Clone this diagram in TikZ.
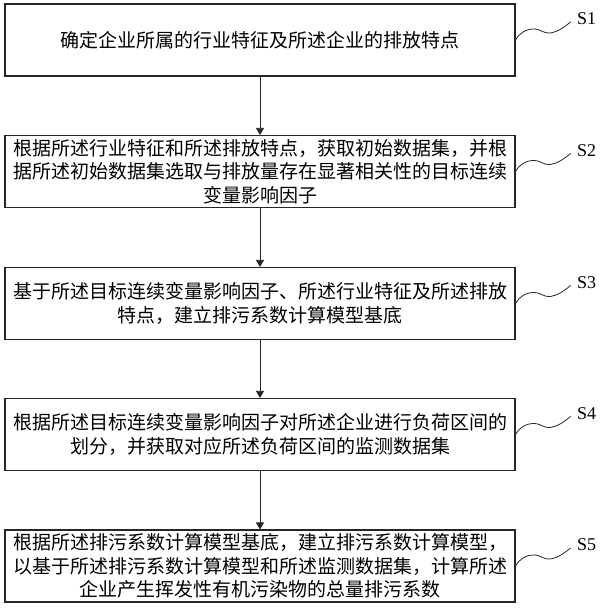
\documentclass[tikz,border=0pt]{standalone}
\usepackage{fontspec}
\setmainfont{Liberation Serif}
\newfontfamily\cjk{Noto Sans CJK SC}
\usetikzlibrary{arrows.meta}
\begin{document}
\begin{tikzpicture}[x=1pt,y=1pt,
  stepbox/.style={draw=black!85,line width=1.1pt,minimum width=510pt,minimum height=72pt,
    inner sep=0pt,align=center,font=\cjk\fontsize{19}{23.5}\selectfont},
  flow/.style={draw=black!85,line width=0.8pt,-{Triangle[length=7pt,width=8pt]}},
  wave/.style={draw=black!85,line width=0.8pt},
  steplabel/.style={font=\fontsize{18}{20}\selectfont,inner sep=0pt}]
\useasboundingbox (0,0) rectangle (600,609);
\node[stepbox] (b1) at (260,569) {确定企业所属的行业特征及所述企业的排放特点};
\node[stepbox] (b2) at (260,437.5) {根据所述行业特征和所述排放特点，获取初始数据集，并根\\据所述初始数据集选取与排放量存在显著相关性的目标连续\\变量影响因子};
\node[stepbox] (b3) at (260,305.5) {基于所述目标连续变量影响因子、所述行业特征及所述排放\\特点，建立排污系数计算模型基底};
\node[stepbox] (b4) at (260,174.5) {根据所述目标连续变量影响因子对所述企业进行负荷区间的\\划分，并获取对应所述负荷区间的监测数据集};
\node[stepbox] (b5) at (260,43) {根据所述排污系数计算模型基底，建立排污系数计算模型，\\以基于所述排污系数计算模型和所述监测数据集，计算所述\\企业产生挥发性有机污染物的总量排污系数};
\foreach \i/\j in {1/2,2/3,3/4,4/5} \draw[flow] (b\i.south) -- (b\j.north);
\foreach \i in {1,...,5} {
  \node[steplabel] (s\i) at ([shift={(71,21)}]b\i.east) {S\i};
  \draw[wave] (b\i.east) .. controls +(3,6) and +(-8,0) .. ++(18,11)
     .. controls +(8,0) and +(-7,-1) .. ++(17,-4)
     .. controls +(7,1) and +(-6,-5) .. ++(20,11);
}
\end{tikzpicture}
\end{document}
